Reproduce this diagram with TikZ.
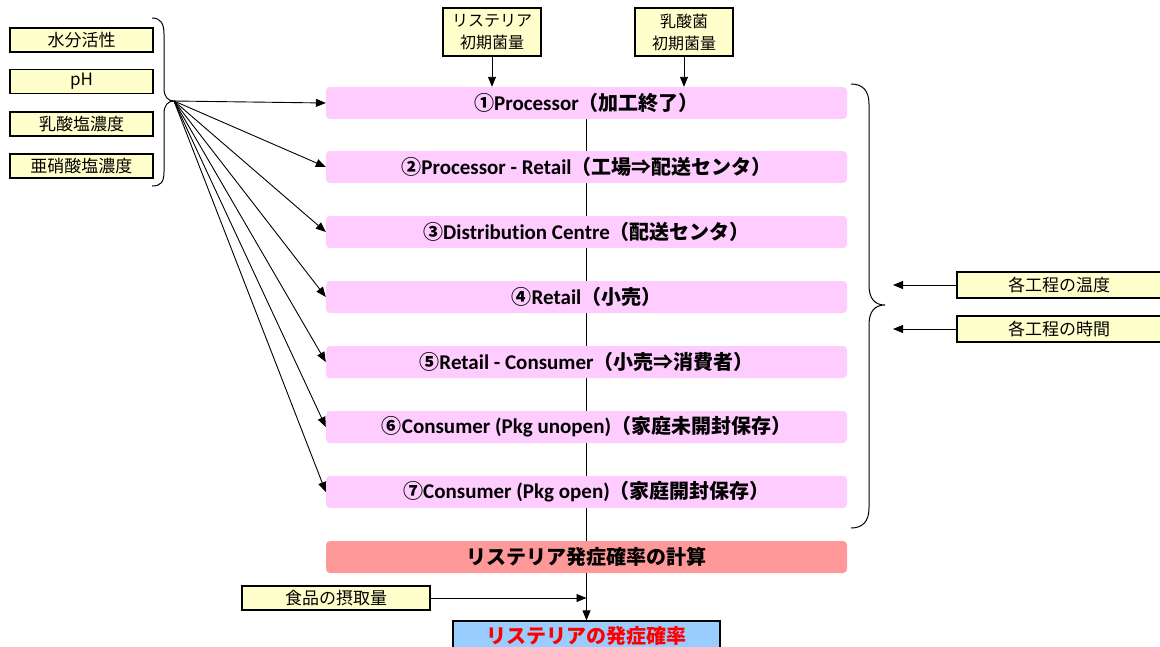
\documentclass[tikz,border=0pt]{standalone}
\usepackage{fontspec}
\setmainfont{Noto Sans CJK JP}
\newfontfamily\jp{Noto Sans CJK JP}
\newfontfamily\lat[Ligatures=NoCommon]{Carlito}
\usetikzlibrary{arrows.meta,backgrounds}
\definecolor{ybox}{HTML}{FFFFCC}
\definecolor{pbox}{HTML}{FFCCFF}
\definecolor{rbox}{HTML}{FF9999}
\definecolor{bbox}{HTML}{99CCFF}
\tikzset{
  arr/.style={line width=0.9pt,-{Triangle[length=10pt,width=8pt]}},
  ybx/.style={draw=black,line width=1.2pt,fill=ybox,inner sep=0pt,font=\jp\fontsize{17}{19}\selectfont},
  stage/.style={fill=pbox,rounded corners=4pt,minimum width=521pt,minimum height=32pt,inner sep=0pt,font=\fontsize{20}{22}\selectfont\bfseries},
  brace/.style={line width=1pt}
}
\newcommand{\lt}[1]{{\lat\bfseries\fontsize{21}{22}\selectfont #1}}
\begin{document}
\begin{tikzpicture}[x=1pt,y=-1pt]
\useasboundingbox (0,0) rectangle (1160,646);
\begin{pgfonlayer}{background}
\fill[white] (0,0) rectangle (1160,646);
\end{pgfonlayer}
\clip (0,0) rectangle (1160,646);
% left factor boxes
\node[ybx,minimum width=143pt,minimum height=24pt] (aw) at (81.5,40) {水分活性};
\node[ybx,minimum width=143pt,minimum height=24pt] (ph) at (81.5,81.5) {pH};
\node[ybx,minimum width=143pt,minimum height=24pt] (lac) at (81.5,124) {乳酸塩濃度};
\node[ybx,minimum width=143pt,minimum height=24pt] (nit) at (81.5,166) {亜硝酸塩濃度};
% top boxes
\node[ybx,minimum width=98pt,minimum height=48pt,align=center,font=\jp\fontsize{16}{22}\selectfont] (lis0) at (492,32) {リステリア\\初期菌量};
\node[ybx,minimum width=98pt,minimum height=48pt,align=center,font=\jp\fontsize{16}{22}\selectfont] (lab0) at (684,32) {乳酸菌\\初期菌量};
% stages
\node[stage] (s1) at (586.5,103) {①\lt{Processor}（加工終了）};
\node[stage] (s2) at (586.5,167) {②\lt{Processor - Retail}（工場⇒配送センタ）};
\node[stage] (s3) at (586.5,232) {③\lt{Distribution Centre}（配送センタ）};
\node[stage] (s4) at (586.5,297) {④\lt{Retail}（小売）};
\node[stage] (s5) at (586.5,362) {⑤\lt{Retail - Consumer}（小売⇒消費者）};
\node[stage] (s6) at (586.5,427) {⑥\lt{Consumer (Pkg unopen)}（家庭未開封保存）};
\node[stage] (s7) at (586.5,492) {⑦\lt{Consumer (Pkg open)}（家庭開封保存）};
\node[stage,fill=rbox] (calc) at (586.5,557) {リステリア発症確率の計算};
% food intake
\node[ybx,minimum width=188pt,minimum height=24pt] (food) at (336,598) {食品の摂取量};
\coordinate (fj) at (586.5,598);
% result
\node[draw=black,line width=1.2pt,fill=bbox,minimum width=267pt,minimum height=30pt,inner sep=0pt,font=\fontsize{20}{22}\selectfont\bfseries,text=red] (res) at (586.5,636) {リステリアの発症確率};
% right boxes
\node[ybx,minimum width=204pt,minimum height=26pt] (temp) at (1059,285) {各工程の温度};
\node[ybx,minimum width=204pt,minimum height=26pt] (time) at (1059,329) {各工程の時間};
\coordinate (rt) at (893,285);
\coordinate (rm) at (893,329);
% left brace
\coordinate (lb) at (174,101);
\draw[brace] (152,18) .. controls (161,18) and (164,24) .. (164,34) -- (164,88)
  .. controls (164,97) and (168,101) .. (lb)
  .. controls (168,101) and (164,105) .. (164,114) -- (164,172)
  .. controls (164,182) and (161,186) .. (152,186);
% right brace
\coordinate (rtip) at (885,305);
\draw[brace] (851,84) .. controls (862,84) and (869,90) .. (869,104) -- (869,285)
  .. controls (869,299) and (875,305) .. (rtip)
  .. controls (875,305) and (869,311) .. (869,325) -- (869,508)
  .. controls (869,522) and (862,528) .. (851,528);
% arrows from left brace
\foreach \s in {s1,s2,s3,s4,s5,s6,s7} \draw[arr] (lb) -- (\s.west);
% top arrows
\draw[arr] (lis0.south) -- (lis0.south |- s1.north);
\draw[arr] (lab0.south) -- (lab0.south |- s1.north);
% right arrows
\draw[arr] (temp.west) -- (rt);
\draw[arr] (time.west) -- (rm);
% food arrow
\draw[arr] (food.east) -- (fj);
% main flow line behind stages
\begin{pgfonlayer}{background}
\draw[arr] (s1.south) -- (res.north);
\end{pgfonlayer}
\end{tikzpicture}
\end{document}
